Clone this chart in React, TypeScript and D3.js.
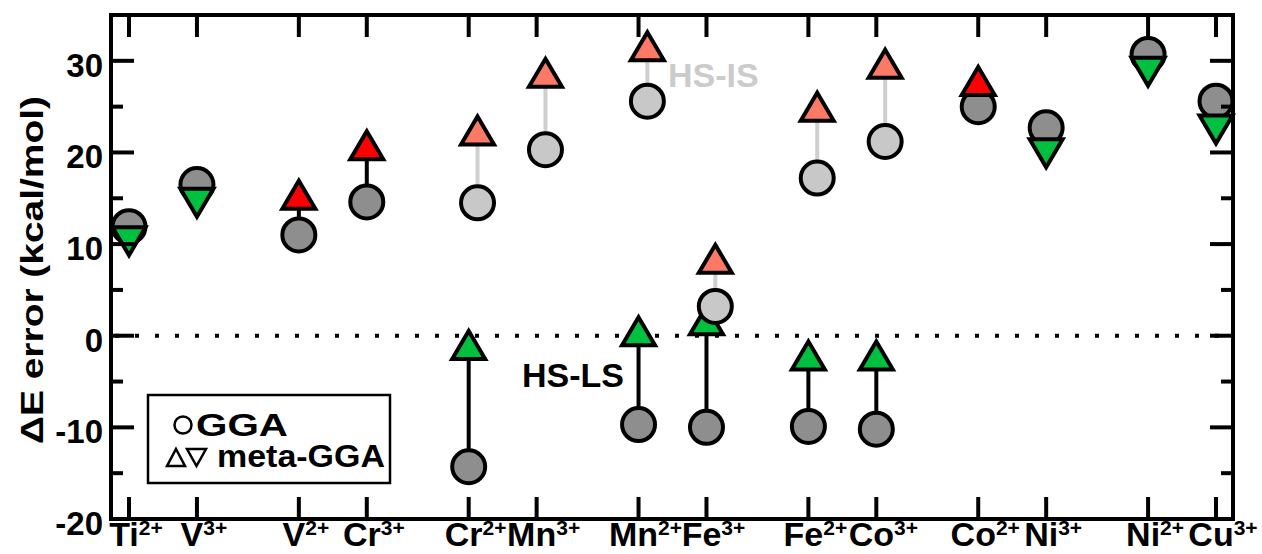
import React from "react";
import * as d3 from "d3";

// ---- data ----
const ions = ["Ti", "V", "V", "Cr", "Cr", "Mn", "Mn", "Fe", "Fe", "Co", "Co", "Ni", "Ni", "Cu"];
const charges = ["2+", "3+", "2+", "3+", "2+", "3+", "2+", "3+", "2+", "3+", "2+", "3+", "2+", "3+"];
const positions = [0, 1, 2.5, 3.5, 5, 6, 7.5, 8.5, 10, 11, 12.5, 13.5, 15, 16];

// HS-LS splitting errors
const lsIons = ["Ti2+", "V3+", "V2+", "Cr3+", "Cr2+", "Mn2+", "Fe3+", "Fe2+", "Co3+", "Co2+", "Ni3+", "Ni2+", "Cu3+"];
const lsGGA = [11.9, 16.5, 11.0, 14.6, -14.3, -9.7, -10.0, -9.9, -10.2, 25.0, 22.7, 30.7, 25.6];
const lsMeta = [10.2, 14.4, 15.5, 20.9, -0.9, 0.6, 1.8, -2.05, -2.05, 27.9, 19.8, 28.7, 22.4];

// HS-IS splitting errors
const isIons = ["Cr2+", "Mn3+", "Mn2+", "Fe3+", "Fe2+", "Co3+"];
const isGGA = [14.5, 20.3, 25.6, 3.2, 17.2, 21.2];
const isMeta = [22.5, 28.8, 31.7, 8.5, 25.1, 29.8];
const isOffset = 0.13;

const yMajor = [-20, -10, 0, 10, 20, 30];
const yMinor = [-15, -5, 5, 15, 25];

const COL = {
  ggaLS: "#8e8e8e",
  ggaIS: "#c8c8c8",
  better: "#00c040",
  worse: "#ff0000",
  isTri: "#fa7a66",
  isLine: "#cfcfcf",
  isText: "#cbcbcb",
};

const FONT = "'Liberation Sans', Arial, Helvetica, sans-serif";

const W = 1262;
const H = 554;
const L = 111, R = 1233, T = 15, B = 519;

const x = d3.scaleLinear().domain([-0.265, 16.25]).range([L, R]);
const y = d3.scaleLinear().domain([-20, 35]).range([B, T]);

const labels = ions.map((s, i) => s + charges[i]);
const posOf = (name: string) => positions[labels.indexOf(name)];

const triUp = "M0,-13L16.5,15L-16.5,15Z";
const triDown = "M0,13L16.5,-15L-16.5,-15Z";

export default function App() {
  const zeroLine = d3.line<number>().x((d) => d).y(() => y(0));
  return (
    <div style={{ position: "absolute", left: 0, top: 0 }}>
      <svg width={W} height={H} style={{ display: "block", background: "#fff" }}>
        {/* zero dotted line */}
        <path d={zeroLine([L, R]) || ""} stroke="#000" strokeWidth={4} strokeDasharray="4 16" strokeDashoffset={16} fill="none" />

        {/* HS-LS connectors */}
        {lsIons.map((n, i) => (
          <line key={"lsl" + i} x1={x(posOf(n))} x2={x(posOf(n))} y1={y(lsGGA[i])} y2={y(lsMeta[i])} stroke="#000" strokeWidth={4} />
        ))}
        {/* HS-LS GGA circles */}
        {lsIons.map((n, i) => (
          <circle key={"lsc" + i} cx={x(posOf(n))} cy={y(lsGGA[i])} r={16.5} fill={COL.ggaLS} stroke="#000" strokeWidth={4} />
        ))}
        {/* HS-LS meta-GGA triangles */}
        {lsIons.map((n, i) => {
          const up = lsMeta[i] > lsGGA[i];
          const better = Math.abs(lsMeta[i]) < Math.abs(lsGGA[i]);
          return (
            <path
              key={"lst" + i}
              d={up ? triUp : triDown}
              transform={`translate(${x(posOf(n))},${y(lsMeta[i])})`}
              fill={better ? COL.better : COL.worse}
              stroke="#000"
              strokeWidth={4}
              strokeLinejoin="miter"
            />
          );
        })}

        {/* HS-IS connectors */}
        {isIons.map((n, i) => (
          <line key={"isl" + i} x1={x(posOf(n) + isOffset)} x2={x(posOf(n) + isOffset)} y1={y(isGGA[i])} y2={y(isMeta[i])} stroke={COL.isLine} strokeWidth={4} />
        ))}
        {isIons.map((n, i) => (
          <circle key={"isc" + i} cx={x(posOf(n) + isOffset)} cy={y(isGGA[i])} r={16.5} fill={COL.ggaIS} stroke="#000" strokeWidth={4} />
        ))}
        {isIons.map((n, i) => (
          <path
            key={"ist" + i}
            d={isMeta[i] > isGGA[i] ? triUp : triDown}
            transform={`translate(${x(posOf(n) + isOffset)},${y(isMeta[i])})`}
            fill={COL.isTri}
            stroke="#000"
            strokeWidth={4}
          />
        ))}

        {/* annotations */}
        <text x={668} y={87} fontFamily={FONT} fontWeight="bold" fontSize={34} fill={COL.isText}>HS-IS</text>
        <text x={522} y={387} fontFamily={FONT} fontWeight="bold" fontSize={34} fill="#000">HS-LS</text>

        {/* frame */}
        <rect x={L} y={T} width={R - L} height={B - T} fill="none" stroke="#000" strokeWidth={4} />

        {/* x ticks top & bottom */}
        {positions.map((p, i) => (
          <g key={"xt" + i}>
            <line x1={x(p)} x2={x(p)} y1={B} y2={B - 22} stroke="#000" strokeWidth={4} />
            <line x1={x(p)} x2={x(p)} y1={T} y2={T + 22} stroke="#000" strokeWidth={4} />
          </g>
        ))}
        {/* y ticks left & right */}
        {yMajor.map((v) => (
          <g key={"ym" + v}>
            <line x1={L} x2={L + 23} y1={y(v)} y2={y(v)} stroke="#000" strokeWidth={4} />
            <line x1={R} x2={R - 23} y1={y(v)} y2={y(v)} stroke="#000" strokeWidth={4} />
          </g>
        ))}
        {yMinor.map((v) => (
          <g key={"yn" + v}>
            <line x1={L} x2={L + 12} y1={y(v)} y2={y(v)} stroke="#000" strokeWidth={4} />
            <line x1={R} x2={R - 12} y1={y(v)} y2={y(v)} stroke="#000" strokeWidth={4} />
          </g>
        ))}

        {/* y tick labels */}
        {yMajor.map((v) => (
          <text key={"yl" + v} x={103} y={y(v) + 16} textAnchor="end" fontFamily={FONT} fontWeight="bold" fontSize={33}>
            {String(v)}
          </text>
        ))}

        {/* x tick labels */}
        {ions.map((s, i) => (
          <text key={"xl" + i} x={x(positions[i]) + 7} y={546} textAnchor="middle" fontFamily={FONT} fontWeight="bold" fontSize={34}>
            <tspan>{s}</tspan>
            <tspan fontSize={21} dy={-11}>{charges[i]}</tspan>
          </text>
        ))}

        {/* y axis title */}
        <text
          transform="translate(43,270) rotate(-90)"
          textAnchor="middle"
          fontFamily={FONT}
          fontWeight="bold"
          fontSize={31}
          textLength={348}
          lengthAdjust="spacingAndGlyphs"
        >
          ΔE error (kcal/mol)
        </text>

        {/* legend */}
        <rect x={148} y={395} width={242} height={88} fill="#fff" stroke="#000" strokeWidth={2.5} />
        <circle cx={183} cy={425} r={8.5} fill="none" stroke="#000" strokeWidth={2.5} />
        <text x={196} y={436} fontFamily={FONT} fontWeight="bold" fontSize={31} textLength={92} lengthAdjust="spacingAndGlyphs">GGA</text>
        <path d="M176,449L185,466L167,466Z" fill="none" stroke="#000" strokeWidth={2.5} />
        <path d="M187,449L206,449L196.5,466Z" fill="none" stroke="#000" strokeWidth={2.5} />
        <text x={217} y={467} fontFamily={FONT} fontWeight="bold" fontSize={31} textLength={168} lengthAdjust="spacingAndGlyphs">meta-GGA</text>
      </svg>
    </div>
  );
}
